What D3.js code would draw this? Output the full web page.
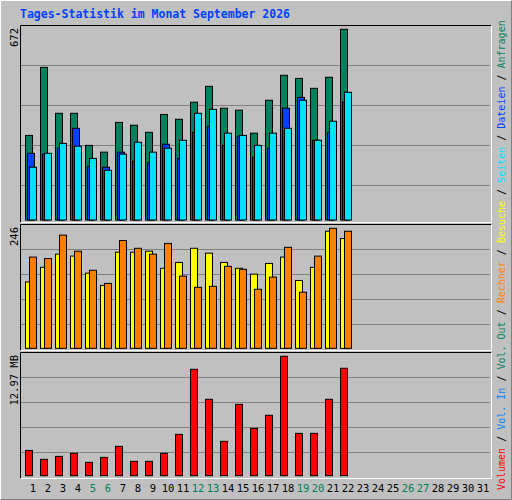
<!DOCTYPE html>
<html><head><meta charset="utf-8">
<script src="https://cdn.jsdelivr.net/npm/d3@7"></script>
<style>body{margin:0;background:#fff}</style></head>
<body><svg id="c" width="512" height="500"></svg>
<script>
const days = d3.range(1,32);
const weekend = [5,6,12,13,19,20,26,27];
const hits  = [298,538,376,376,263,239,344,334,309,372,355,415,471,394,387,306,422,510,499,464,503,672];
const files = [235,232,253,323,189,186,239,207,203,267,217,309,330,263,295,221,253,394,432,281,309,415];
const pages = [186,235,270,260,217,175,232,274,239,253,281,376,390,306,298,263,306,323,422,281,348,450];
const visits= [136,166,193,189,154,129,197,197,199,164,176,205,195,176,164,152,174,187,139,166,240,225];
const sites = [187,184,232,199,160,133,221,205,193,215,148,125,127,168,162,121,146,207,115,189,246,240];
const volume= [2.75,1.78,2.10,2.43,1.45,1.99,3.19,1.56,1.56,2.43,4.49,11.56,8.30,3.73,7.75,5.14,6.56,12.97,4.60,4.60,8.30,11.67];
const maxHits=672, maxSites=246, maxVol=12.97;
const title="Tages-Statistik im Monat September 2026";

const svg=d3.select("#c");
const font="DejaVu Sans Mono, monospace";
svg.append("rect").attr("width",512).attr("height",500).attr("fill","#c0c0c0");
svg.append("path").attr("d","M0.5,499.5V0.5H511.5").attr("stroke","#fff").attr("fill","none");
svg.append("path").attr("d","M0.5,499.5H511.5V0.5").attr("stroke","#808080").attr("fill","none");
svg.append("text").attr("x",20).attr("y",18).attr("font-family",font).attr("font-size",11.5)
  .attr("font-weight","bold").attr("fill","#0040ff").text(title);

const x=d3.scaleBand().domain(days).range([25,490]).paddingInner(0);
const panels=[
  {top:25,bottom:222,base:220,max:maxHits,label:"672",series:[[hits,0,"#00805c"],[files,2,"#0040ff"],[pages,4,"#00e0ff"]]},
  {top:224,bottom:350,base:348.3,max:maxSites,label:"246",series:[[visits,0,"#ffff00"],[sites,4,"#ff8000"]]},
  {top:352,bottom:478,base:475.7,max:maxVol,label:"12.97 MB",series:[[volume,0,"#ff0000"]]}
];
panels.forEach((p,i)=>{
  svg.append("path").attr("d",`M20.5,${p.bottom+.5}V${p.top+.5}H491.5`).attr("stroke","#000").attr("fill","none");
  svg.append("path").attr("d",`M20.5,${p.bottom+.5}H491.5V${p.top+.5}`).attr("stroke","#fff").attr("fill","none");
  const topY = i==0?29.3:(i==1?228.3:356.3);
  const y=d3.scaleLinear().domain([0,p.max]).range([p.base,topY]);
  // grid lines: 4 evenly spaced
  const step=(i==0?40:25);
  for(let k=1;k<=4;k++){
    const gy = (i==0?185:(i==1?324.3:452.3)) - (k-1)*step;
    svg.append("line").attr("x1",21).attr("x2",490).attr("y1",Math.round(gy)+.5).attr("y2",Math.round(gy)+.5).attr("stroke","#808080");
  }
  p.series.forEach(([vals,off,col])=>{
    svg.append("g").selectAll("rect").data(vals).join("rect")
      .attr("x",(d,j)=>x(days[j])+off+.5).attr("width",7)
      .attr("y",d=>y(d)).attr("height",d=>p.base-y(d))
      .attr("fill",col).attr("stroke","#000").attr("stroke-width",1);
  });
  svg.append("text").attr("transform",`translate(18,${p.top+3}) rotate(-90)`)
    .attr("text-anchor","end").attr("font-family",font).attr("font-size",10.5).attr("fill","#000").text(p.label);
});
svg.append("g").selectAll("text").data(days).join("text")
  .attr("x",d=>x(d)+8).attr("y",492).attr("text-anchor","middle")
  .attr("font-family",font).attr("font-size",10.5)
  .attr("fill",d=>weekend.includes(d)?"#00805c":"#000").text(d=>d);
const legend=[["Volumen","#ff0000"],["Vol. In","#0080ff"],["Vol. Out","#00805c"],["Rechner","#ff8000"],["Besuche","#ffff00"],["Seiten","#00e0ff"],["Dateien","#0040ff"],["Anfragen","#00805c"]];
const lt=svg.append("text").attr("transform","translate(505,490) rotate(-90)")
  .attr("font-family",font).attr("font-size",10);
legend.forEach(([t,c],k)=>{
  if(k>0) lt.append("tspan").attr("fill","#000").text(" / ");
  lt.append("tspan").attr("fill",c).text(t);
});
</script></body></html>
